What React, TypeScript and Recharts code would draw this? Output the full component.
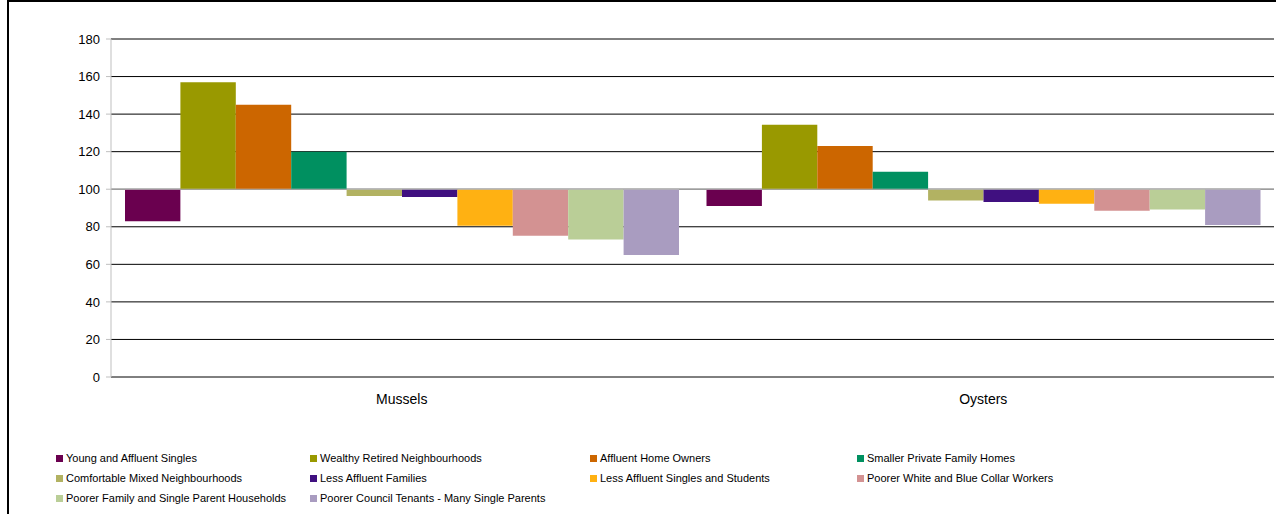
import React from "react";
import {
	Bar,
	BarChart,
	CartesianGrid,
	ReferenceLine,
	XAxis,
	YAxis,
} from "recharts";

// Index values, base line is 100 (bars hang from it)
const BASE = 100;

const categories = ["Mussels", "Oysters"];

const seriesNames = [
	"Young and Affluent Singles",
	"Wealthy Retired Neighbourhoods",
	"Affluent Home Owners",
	"Smaller Private Family Homes",
	"Comfortable Mixed Neighbourhoods",
	"Less Affluent Families",
	"Less Affluent Singles and Students",
	"Poorer White and Blue Collar Workers",
	"Poorer Family and Single Parent Households",
	"Poorer Council Tenants - Many Single Parents",
];

const seriesColors = [
	"#6A004F",
	"#999900",
	"#CC6600",
	"#009060",
	"#B2B262",
	"#401080",
	"#FFB112",
	"#D39292",
	"#BACE97",
	"#A99CC0",
];

const musselsValues = [83, 157, 145, 120, 96.4, 95.8, 80.5, 75.2, 73.2, 65];
const oystersValues = [91, 134.4, 123, 109.3, 94, 93.2, 92.3, 88.5, 89.2, 81];

const yTicks = [0, 20, 40, 60, 80, 100, 120, 140, 160, 180];

// legend layout: 4 columns, 3 rows
const legendCols = [47, 301, 581, 848];
const legendRows = [456, 476, 496];

const FONT = '"Liberation Sans", Arial, sans-serif';

const valuesByCategory = [musselsValues, oystersValues];

const data = categories.map((name, ci) => {
	const row: Record<string, any> = { name };
	seriesNames.forEach((_, si) => {
		const v = valuesByCategory[ci][si];
		row[`s${si}`] = [Math.min(BASE, v), Math.max(BASE, v)];
	});
	return row;
});

function LegendBlock() {
	return (
		<>
			{seriesNames.map((name, i) => {
				const col = i % 4;
				const row = Math.floor(i / 4);
				return (
					<div
						key={name}
						style={{
							position: "absolute",
							left: legendCols[col],
							top: legendRows[row] - 7,
							height: 14,
							display: "flex",
							alignItems: "center",
							whiteSpace: "nowrap",
							fontFamily: FONT,
							fontSize: 11,
							color: "#000",
						}}
					>
						<span
							style={{
								display: "inline-block",
								width: 7,
								height: 7,
								background: seriesColors[i],
								marginRight: 3,
							}}
						/>
						{name}
					</div>
				);
			})}
		</>
	);
}

export default function App() {
	return (
		<div
			style={{
				position: "absolute",
				left: 0,
				top: 0,
				width: 1276,
				height: 514,
				overflow: "hidden",
				background: "#fff",
			}}
		>
			<div
				style={{
					position: "absolute",
					left: 7,
					top: 0,
					width: 1300,
					height: 540,
					border: "2px solid #000",
					boxSizing: "border-box",
					background: "#fff",
				}}
			>
				<BarChart
					width={1289}
					height={536}
					data={data}
					margin={{ top: 37, right: 24, left: 0, bottom: 131 }}
					barSize={55.4}
					barGap={0}
				>
					<CartesianGrid vertical={false} stroke="#000" />
					<XAxis
						dataKey="name"
						axisLine={false}
						tickLine={false}
						tickSize={0}
						tickMargin={17}
						height={30}
						tick={{ fontSize: 14, fill: "#000", fontFamily: FONT }}
					/>
					<YAxis
						width={102}
						domain={[0, 180]}
						ticks={yTicks}
						interval={0}
						axisLine={{ stroke: "#bfbfbf" }}
						tickLine={{ stroke: "#bfbfbf" }}
						tickSize={5}
						tickMargin={6}
						tick={{ fontSize: 13, fill: "#000", fontFamily: FONT }}
					/>
					{seriesNames.map((name, i) => (
						<Bar
							key={name}
							name={name}
							dataKey={`s${i}`}
							fill={seriesColors[i]}
							isAnimationActive={false}
						/>
					))}
					<ReferenceLine y={BASE} stroke="#c0c0c0" />
				</BarChart>
				<LegendBlock />
			</div>
		</div>
	);
}
